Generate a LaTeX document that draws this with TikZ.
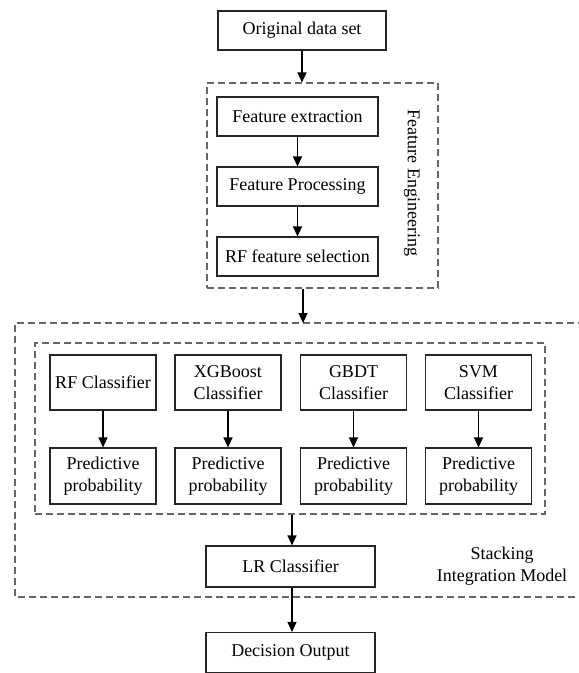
\documentclass[tikz,border=0pt]{standalone}
\usepackage{fontspec}
\setmainfont{Liberation Serif}
\usetikzlibrary{arrows.meta}

\tikzset{
  box/.style={draw=black!85, line width=1.1pt, inner sep=0pt, align=center},
  group/.style={draw=black!60, line width=1.1pt, dash pattern=on 7pt off 4pt},
}

\begin{document}
\begin{tikzpicture}[x=1pt, y=-1pt, >={Triangle[length=10pt,width=9pt]},
    font=\fontsize{18}{22}\selectfont]
  \useasboundingbox (0, 0) rectangle (579, 673);

  % Input data.
  \node [box, minimum width=168, minimum height=39] (orig) at (302, 30.5) {Original data set};

  % Feature engineering.
  \node [group, minimum width=231, minimum height=205] (fe) at (322.5, 185.5) {};
  \node [box, minimum width=161, minimum height=39] (fext) at (297.5, 116.5) {Feature extraction};
  \node [box, minimum width=161, minimum height=39] (fproc) at (297.5, 186.5) {Feature Processing};
  \node [box, minimum width=161, minimum height=39] (fsel) at (297.5, 256.5) {RF feature selection};
  \node [rotate=-90] (felabel) at (412, 183) {Feature Engineering};

  % Stacking integration model (open on the right).
  \coordinate (stktop) at (303, 323);
  \draw [group] (585, 323) -- (15, 323) -- (15, 597) -- (585, 597);
  \node [align=center] (stklabel) at (502, 566) {Stacking\\Integration Model};

  % Base classifiers.
  \node [group, minimum width=510, minimum height=171] (base) at (290, 428.5) {};
  \node [box, minimum width=106, minimum height=55] (rfc) at (103, 382.5) {RF Classifier};
  \node [box, minimum width=106, minimum height=55] (xgb) at (228, 382.5) {XGBoost\\Classifier};
  \node [box, minimum width=106, minimum height=55] (gbdt) at (353.5, 382.5) {GBDT\\Classifier};
  \node [box, minimum width=106, minimum height=55] (svm) at (478.5, 382.5) {SVM\\Classifier};

  % Predictive probabilities.
  \node [box, minimum width=106, minimum height=56] (prfc) at (103, 476) {Predictive\\probability};
  \node [box, minimum width=106, minimum height=56] (pxgb) at (228, 476) {Predictive\\probability};
  \node [box, minimum width=106, minimum height=56] (pgbdt) at (353.5, 476) {Predictive\\probability};
  \node [box, minimum width=106, minimum height=56] (psvm) at (478.5, 476) {Predictive\\probability};

  % Meta classifier and output.
  \node [box, minimum width=169, minimum height=41] (lr) at (290.5, 566.5) {LR Classifier};
  \node [box, minimum width=169, minimum height=40] (dec) at (290.5, 652.5) {Decision Output};

  % Arrows.
  \draw [->, line width=1.1pt] (orig) -- (orig |- fe.north);
  \draw [->, line width=1.1pt] (fext) -- (fproc);
  \draw [->, line width=1.1pt] (fproc) -- (fsel);
  \draw [->, line width=1.1pt] (stktop |- fe.south) -- (stktop);
  \draw [->, line width=1.1pt] (rfc) -- (prfc);
  \draw [->, line width=1.1pt] (xgb) -- (pxgb);
  \draw [->, line width=1.1pt] (gbdt) -- (pgbdt);
  \draw [->, line width=1.1pt] (svm) -- (psvm);
  \draw [->, line width=1.1pt] ([xshift=1.5pt]lr.north |- base.south) -- ([xshift=1.5pt]lr.north);
  \draw [->, line width=1.1pt] ([xshift=1.5pt]lr.south) -- ([xshift=1.5pt]dec.north);
\end{tikzpicture}
\end{document}
